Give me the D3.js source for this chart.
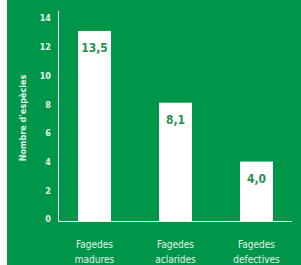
<!DOCTYPE html>
<html><head><meta charset="utf-8">
<script src="https://cdn.jsdelivr.net/npm/d3@7"></script>
<style>
html,body{margin:0;padding:0;background:#fff;}
svg{display:block;}
</style></head>
<body>
<svg id="c" width="301" height="265"></svg>
<script>
const categories = [["Fagedes","madures"],["Fagedes","aclarides"],["Fagedes","defectives"]];
const values = [13.1, 8.1, 4.0];
const valueLabels = ["13,5","8,1","4,0"];
const yTicks = [0,2,4,6,8,10,12,14];

const svg = d3.select("#c");
const green = "#00964a";
const light = "#e6f3ea";
const font = "'Liberation Sans Narrow','DejaVu Sans Condensed',Roboto,sans-serif";

svg.append("rect").attr("x",7).attr("y",0).attr("width",294).attr("height",265).attr("fill",green);

const y = d3.scaleLinear().domain([0,14]).range([219,18]);
const x = d3.scaleBand().domain(d3.range(categories.length)).range([57,294])
  .paddingInner(0.593).paddingOuter(0.26);
const base = y(0) + 2;

// bars
svg.selectAll(".bar").data(values).enter().append("rect")
  .attr("x",(d,i)=>x(i)).attr("width",x.bandwidth())
  .attr("y",d=>y(d)).attr("height",d=>base - y(d))
  .attr("fill","#fff");

// value labels
svg.selectAll(".vl").data(values).enter().append("text")
  .attr("x",(d,i)=>x(i)+x.bandwidth()/2).attr("y",d=>y(d)+21)
  .attr("text-anchor","middle").attr("fill","#2a8f52")
  .attr("font-family",font).attr("font-weight","bold").attr("font-size",12)
  .text((d,i)=>valueLabels[i]);

// y axis
const yAxis = d3.axisLeft(y).tickValues(yTicks).tickSize(0).tickPadding(7).tickFormat(d3.format("d"));
const ga = svg.append("g").attr("transform","translate(58,0)").call(yAxis);
ga.select(".domain").remove();
ga.selectAll("text").attr("fill",light).attr("font-family",font).attr("font-weight","bold").attr("font-size",9);
svg.append("line").attr("x1",58.5).attr("x2",58.5).attr("y1",11).attr("y2",base)
  .attr("stroke",light).attr("stroke-width",1);
svg.append("line").attr("x1",58).attr("x2",292).attr("y1",base+0.5).attr("y2",base+0.5)
  .attr("stroke",light).attr("stroke-width",1);

// x labels
const gx = svg.selectAll(".xl").data(categories).enter().append("text")
  .attr("x",(d,i)=>x(i)+x.bandwidth()/2).attr("y",248)
  .attr("text-anchor","middle").attr("fill",light)
  .attr("font-family",font).attr("font-size",10);
gx.selectAll("tspan").data(d=>d).enter().append("tspan")
  .attr("x",function(){return d3.select(this.parentNode).attr("x");})
  .attr("dy",(d,i)=>i===0?0:15).text(d=>d);

// y title
svg.append("text").attr("transform","translate(26,118) rotate(-90)")
  .attr("text-anchor","middle").attr("fill",light)
  .attr("font-family",font).attr("font-weight","bold").attr("font-size",9)
  .text("Nombre d'espècies");
</script>
</body></html>
